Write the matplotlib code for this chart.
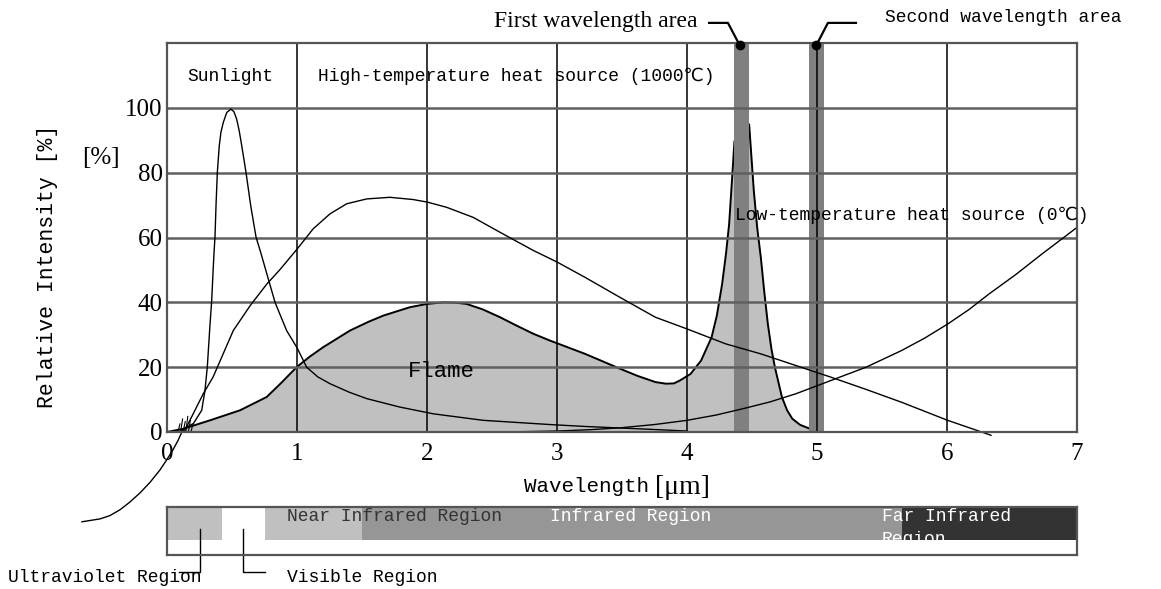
import matplotlib.pyplot as plt
from matplotlib.patches import Rectangle
from matplotlib.transforms import Bbox, TransformedBbox

W, H = 1161, 589

MONO = ['Liberation Mono', 'DejaVu Sans Mono', 'DejaVu Sans']
SERIF = ['Liberation Serif', 'DejaVu Serif']

# curves (wavelength in um, relative intensity in %)
sun_x = [0.10, 0.126, 0.203, 0.267, 0.292, 0.31, 0.331, 0.343, 0.355, 0.362, 0.369,
         0.377, 0.387, 0.402, 0.415, 0.433, 0.46, 0.492, 0.515, 0.536, 0.555, 0.575,
         0.608, 0.644, 0.685, 0.72, 0.77, 0.831, 0.92, 1.0, 1.074, 1.16, 1.254,
         1.4, 1.536, 1.79, 2.05, 2.433, 2.946, 3.22, 3.62, 4.0]
sun_y = [0.0, 1.0, 2.6, 6.7, 12.8, 20, 33.3, 40, 50, 55.5, 60.1,
         69.8, 80, 88.3, 92.5, 95.5, 98.6, 99.6, 98.8, 96.5, 93, 88.3,
         80, 69.8, 60.1, 55.5, 48.5, 40, 31.3, 26, 20, 17, 14.9,
         12.3, 10.3, 7.7, 5.6, 3.6, 2.3, 1.7, 1.0, 0.3]

hot_x = [0.13, 0.151, 0.279, 0.355, 0.51, 0.64, 0.767, 0.869, 1.002, 1.125, 1.254,
         1.382, 1.536, 1.715, 1.895, 2.005, 2.152, 2.356, 2.562, 2.818, 3.002, 3.216,
         3.486, 3.757, 4.0, 4.297, 4.568, 4.838, 5.108, 5.38, 5.649, 6.005, 6.338]
hot_y = [0.0, 1.6, 11.8, 17, 31.3, 39, 45.6, 50.1, 56.5, 62.7, 67.3,
         70.4, 71.9, 72.4, 71.7, 70.9, 69.3, 66.2, 61.6, 56, 52.4, 47.7,
         41.5, 35.4, 31.8, 27.2, 24.1, 20.5, 16.9, 13.1, 9.2, 3.6, -1.0]

cold_x = [2.6, 3.0, 3.25, 3.49, 3.75, 4.0, 4.22, 4.432, 4.64, 4.838, 5.108, 5.378,
          5.649, 5.83, 6.005, 6.17, 6.324, 6.53, 6.73, 7.0]
cold_y = [0.0, 0.3, 0.7, 1.3, 2.3, 3.6, 5.2, 7.2, 9.3, 11.8, 15.9, 20,
          25.1, 29.0, 33.3, 37.8, 42.6, 48.6, 54.9, 63.1]

flame_x = [0.0, 0.126, 0.331, 0.562, 0.767, 0.88, 0.997, 1.1, 1.203, 1.408, 1.55,
           1.664, 1.869, 2.0, 2.126, 2.22, 2.305, 2.43, 2.562, 2.69, 2.818, 2.946,
           3.216, 3.486, 3.62, 3.757, 3.838, 3.9, 3.946, 4.027, 4.108, 4.189, 4.23,
           4.27, 4.3, 4.324, 4.345, 4.365, 4.419, 4.478, 4.514, 4.54, 4.568, 4.595,
           4.622, 4.65, 4.676, 4.73, 4.77, 4.81, 4.87, 4.946, 5.0]
flame_y = [0.0, 1.0, 3.6, 6.7, 10.8, 15.2, 20, 23.3, 26.2, 31.3, 34.0,
           35.9, 38.5, 39.5, 40, 39.9, 39.5, 37.8, 35.4, 32.8, 30.3, 28.2,
           24.1, 19.5, 17.3, 15.4, 14.9, 15.0, 15.9, 17.9, 22, 29.2, 36,
           45.6, 55, 64.1, 77, 89.7, 93.8, 94.9, 74.4, 63, 53.8, 43,
           33.3, 25.5, 20, 10.8, 6.7, 4.1, 2.2, 1.0, 0.0]

# pointer curve running out of the plot at the lower left
lead_x = [0.121, 0.085, 0.046, -0.004, -0.054, -0.13, -0.208, -0.285, -0.362, -0.44, -0.515, -0.654]
lead_y = [0.6, -2.6, -5.5, -8.7, -11.7, -15.5, -18.8, -21.6, -24.0, -25.8, -26.8, -27.7]

# little spikes near the origin
spike_x = [0.10, 0.12, 0.14, 0.16, 0.18, 0.20]
spike_h = [2.5, 4.0, 3.2, 4.8, 3.6, 2.4]

# the two detector bands
bands = [(4.365, 4.478), (4.94, 5.05)]

# spectrum strip under the axis
strip_edges = [0, 0.42, 0.75, 1.5, 5.65, 7]
strip_colors = ['#c0c0c0', 'white', '#c0c0c0', '#969696', '#333333']


def px(x, y):
    """pixel position -> figure fraction"""
    return x / W, 1 - y / H


def main():
    fig = plt.figure(figsize=(W / 100, H / 100), dpi=100)
    ax = fig.add_axes([167 / W, 1 - 432 / H, 910 / W, 389 / H])
    ax.set_xlim(0, 7)
    ax.set_ylim(0, 120)

    ax.fill_between(flame_x, flame_y, 0, color='#c0c0c0', lw=0, zorder=1)
    ax.plot(flame_x, flame_y, color='black', lw=1.4, zorder=1.5)

    for lo, hi in bands:
        ax.axvspan(lo, hi, color='#808080', lw=0, zorder=2)

    for g in range(1, 7):
        ax.axvline(g, color='black', lw=1.1, zorder=3)
    for g in range(20, 101, 20):
        ax.axhline(g, color='#606060', lw=1.8, zorder=3)

    ax.plot(sun_x, sun_y, color='black', lw=1.0, zorder=4)
    ax.plot(hot_x, hot_y, color='black', lw=1.0, zorder=4, clip_on=False)
    ax.plot(cold_x, cold_y, color='black', lw=1.0, zorder=4)
    ax.plot(lead_x, lead_y, color='black', lw=1.0, zorder=4, clip_on=False)
    for sx, sh in zip(spike_x, spike_h):
        ax.plot([sx - 0.015, sx], [0.2, sh], color='black', lw=0.8, zorder=4)

    for s in ax.spines.values():
        s.set_color('#555555')
        s.set_linewidth(1.6)
        s.set_zorder(5)

    ax.set_xticks(range(8))
    ax.set_yticks(range(0, 101, 20))
    ax.tick_params(length=0, labelsize=18, pad=3)
    ax.tick_params(axis='x', pad=8)
    for lab in ax.get_xticklabels() + ax.get_yticklabels():
        lab.set_family(SERIF)

    # texts inside the plot
    ax.text(0.154, 109.8, 'Sunlight', family=MONO, fontsize=13, va='center')
    ax.text(1.16, 109.8, 'High-temperature heat source (1000℃)', family=MONO,
            fontsize=13, va='center')
    ax.text(4.366, 66.8, 'Low-temperature heat source (0℃)', family=MONO,
            fontsize=13, va='center', zorder=6)
    ax.text(1.854, 18.6, 'Flame', family=MONO, fontsize=16, va='center', zorder=6)

    # band markers above the plot
    ax.plot([4.404], [119.4], 'o', color='black', ms=6, clip_on=False, zorder=6)
    ax.plot([4.996], [119.4], 'o', color='black', ms=6, clip_on=False, zorder=6)
    ax.plot([4.404, 4.315, 4.17], [119.4, 126.2, 126.2], color='black', lw=1.6,
            clip_on=False, zorder=6)
    ax.plot([4.996, 5.084, 5.3], [119.4, 126.2, 126.2], color='black', lw=1.6,
            clip_on=False, zorder=6)
    ax.text(4.08, 126.5, 'First wavelength area', family=SERIF, fontsize=17,
            ha='right', va='center')
    ax.text(5.52, 128.0, 'Second wavelength area', family=MONO, fontsize=13,
            va='center')

    # axis labels
    fig.text(*px(48, 266), 'Relative Intensity [%]', family=MONO, fontsize=15.5,
             rotation=90, ha='center', va='center')
    fig.text(*px(101, 158), '[%]', family=SERIF, fontsize=18, ha='center', va='center')
    fig.text(*px(649, 487), 'Wavelength', family=MONO, fontsize=15, ha='right', va='center')
    fig.text(*px(655, 487), '[μm]', family=SERIF, fontsize=20, ha='left', va='center')

    # spectrum strip
    bx = fig.add_axes([167 / W, 1 - 555 / H, 910 / W, 48 / H])
    bx.set_xlim(0, 7)
    bx.set_ylim(0, 1)
    bx.set_xticks([])
    bx.set_yticks([])
    for s in bx.spines.values():
        s.set_color('#555555')
        s.set_linewidth(1.6)
    fill_bottom = 15 / 48
    for lo, hi, c in zip(strip_edges[:-1], strip_edges[1:], strip_colors):
        bx.add_patch(Rectangle((lo, fill_bottom), hi - lo, 1 - fill_bottom, color=c, lw=0))

    bx.text(0.92, 0.97, 'Near Infrared Region', family=MONO, fontsize=13,
            color='#333333', va='top')
    bx.text(2.95, 0.97, 'Infrared Region', family=MONO, fontsize=13,
            color='white', va='top')
    t = bx.text(5.5, 0.97, 'Far Infrared\nRegion', family=MONO, fontsize=13,
                color='white', va='top', linespacing=1.45)
    # the second line is cut off at the bottom of the dark block
    t.set_clip_box(TransformedBbox(Bbox([[0, fill_bottom], [7, 1]]), bx.transData))

    # pointers to the UV and visible parts
    bx.plot([0.254, 0.254, 0.092], [0.54, -0.354, -0.354], color='black', lw=1,
            clip_on=False)
    bx.plot([0.585, 0.585, 0.754], [0.54, -0.354, -0.354], color='black', lw=1,
            clip_on=False)
    bx.text(-1.223, -0.46, 'Ultraviolet Region', family=MONO, fontsize=13,
            va='center', clip_on=False)
    bx.text(0.92, -0.46, 'Visible Region', family=MONO, fontsize=13,
            va='center', clip_on=False)

    fig.savefig('out.png', dpi=100)


if __name__ == '__main__':
    main()
